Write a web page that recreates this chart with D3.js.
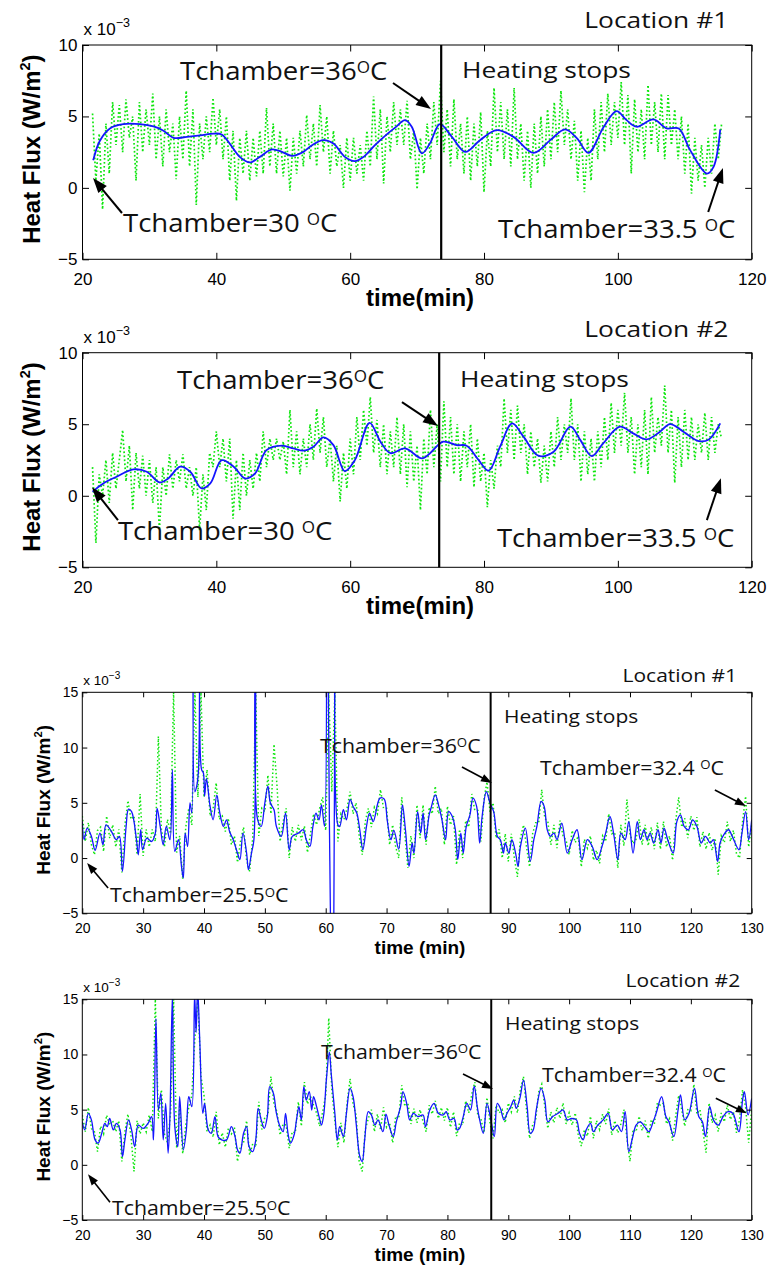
<!DOCTYPE html>
<html><head><meta charset="utf-8">
<script src="https://cdn.jsdelivr.net/npm/d3@7"></script>
<style>body{margin:0;background:#fff}svg{display:block}</style>
</head><body>
<svg id="c" width="773" height="1269"></svg>
<script>
// ---------- DATA ----------
const xTicksTop = [20, 40, 60, 80, 100, 120];
const yTicksTop = [-5, 0, 5, 10];
const xTicksBot = [20, 30, 40, 50, 60, 70, 80, 90, 100, 110, 120, 130];
const yTicksBot = [-5, 0, 5, 10, 15];
const greenStep = 0.5;

// Panel 1 (Location #1, top figure) smoothed curve [time, flux x1e-3]
const blue1 = [[21.6,1.94],[22.6,3.3],[24.1,4.16],[26.1,4.46],[28.6,4.46],[30.6,4.3],[32.1,4.0],[33.6,3.5],[35.6,3.57],[37.6,3.67],[39.6,3.8],[40.8,3.74],[42.0,3.1],[43.5,2.17],[45.0,1.78],[46.5,2.17],[48.3,2.69],[49.8,2.52],[51.3,2.24],[53.0,2.52],[54.3,2.99],[56.0,3.34],[57.5,3.1],[59.2,2.17],[60.7,1.87],[62.0,2.17],[63.7,2.99],[65.6,3.8],[66.8,4.25],[68.2,4.74],[69.2,4.28],[70.7,2.41],[71.9,3.1],[73.4,4.46],[75.2,3.57],[77.2,2.52],[79.4,3.34],[81.9,4.04],[84.4,3.57],[87.4,2.45],[89.9,3.34],[92.1,4.09],[93.9,3.46],[95.6,2.45],[97.9,4.28],[99.8,5.37],[101.3,4.74],[102.8,4.28],[105.3,4.79],[107.3,4.16],[109.1,4.16],[110.8,2.64],[113.3,1.0],[114.3,1.47],[115.3,4.09]];
const green1Start = 21.5;
const green1 = [
5.2,0.5,3.8,-1.5,4.5,1.0,6.0,3.0,5.8,2.5,
6.2,3.5,5.0,0.5,6.0,2.5,5.5,3.0,6.6,2.0,
5.0,1.5,5.5,2.5,4.5,0.6,5.0,2.0,6.8,1.5,
5.5,-1.2,4.5,2.0,5.0,2.5,6.3,3.0,5.5,2.0,
5.0,0.5,4.0,-0.9,3.5,1.0,4.0,0.5,3.5,0.8,
4.0,1.0,5.6,1.5,4.5,1.0,4.0,0.8,3.5,-0.2,
3.5,1.0,4.0,1.5,5.1,2.0,4.5,1.5,5.8,2.5,
5.0,1.0,4.0,1.5,3.0,0.0,3.5,0.5,3.5,1.0,
3.0,0.5,4.0,1.5,6.4,2.0,5.5,0.3,5.0,2.5,
6.0,3.0,5.5,3.0,6.1,2.0,4.0,-0.1,3.5,1.0,
4.5,2.0,6.0,3.0,7.5,2.5,5.5,1.5,6.2,2.0,
4.5,1.0,5.0,0.5,4.5,1.5,5.3,-0.3,4.0,1.5,
7.0,2.5,6.0,2.0,5.5,1.5,7.0,2.0,4.5,0.5,
4.0,0.0,4.5,1.0,5.0,1.5,5.5,2.0,6.0,2.5,
6.8,3.0,5.5,2.0,4.7,0.5,4.0,-0.3,3.5,0.5,
5.5,2.0,6.0,2.5,6.6,3.0,6.0,3.5,7.4,3.0,
6.5,1.0,6.2,2.5,5.5,2.0,7.2,3.0,6.0,2.5,
6.6,2.0,6.5,3.0,5.5,2.0,5.0,1.0,4.5,-0.4,
3.5,0.5,3.0,0.0,3.5,1.0,4.5,2.0,4.5];

// Panel 2 (Location #2, top figure)
const blue2 = [[21.5,0.28],[23.1,0.86],[25.1,1.33],[27.6,1.84],[29.6,1.68],[31.5,0.93],[32.8,1.21],[34.6,2.03],[36.1,1.68],[37.8,0.51],[39.1,0.86],[40.8,2.49],[42.6,2.03],[44.3,1.21],[45.8,1.56],[47.5,3.19],[49.8,3.5],[51.5,3.31],[53.0,3.15],[54.5,3.43],[56.0,4.08],[57.5,3.54],[59.2,1.72],[60.7,2.49],[62.9,5.1],[64.5,3.8],[66.0,2.98],[68.2,3.31],[70.7,2.61],[71.9,2.96],[73.9,3.78],[75.9,3.54],[77.4,3.5],[79.2,2.49],[80.7,1.75],[82.4,3.43],[84.2,5.06],[85.9,4.13],[88.1,2.8],[90.4,3.08],[92.9,4.83],[94.4,3.89],[96.1,2.77],[97.8,3.66],[100.3,4.83],[102.3,4.36],[104.3,3.94],[106.3,4.48],[107.8,5.01],[109.8,4.48],[112.1,3.82],[113.6,3.94],[115.3,5.06]];
const green2Start = 21.5;
const green2 = [
2.0,-3.3,1.5,0.0,2.5,-0.5,3.0,0.5,2.5,4.6,
1.0,3.5,-1.0,3.0,0.5,2.8,0.0,2.5,-0.5,2.0,
-2.4,2.0,0.0,2.9,0.5,2.5,1.0,2.9,0.5,2.0,
0.0,2.0,-2.4,1.5,-1.0,3.0,2.0,4.5,2.0,4.0,
1.0,4.0,-1.6,2.5,-1.0,3.0,0.0,2.5,0.5,3.0,
1.0,4.5,2.0,4.0,2.5,4.0,2.5,3.8,1.5,6.0,
2.0,4.5,1.5,4.0,2.0,5.0,2.5,6.1,3.0,5.5,
2.0,4.0,1.0,3.5,-0.4,3.0,0.5,4.0,1.5,5.5,
2.5,6.0,3.5,6.9,3.0,5.3,2.0,5.0,1.5,4.5,
2.0,5.5,1.5,5.0,0.6,4.5,1.0,3.5,-1.0,4.0,
1.5,6.0,2.0,5.0,1.0,6.6,2.0,5.5,1.5,5.0,
1.0,4.5,2.0,5.0,0.6,4.0,1.0,3.0,-0.8,2.5,
0.5,3.5,2.0,6.8,3.0,6.0,2.5,6.3,3.0,5.0,
1.5,4.5,2.0,4.0,0.9,3.5,1.0,4.5,2.0,5.5,
2.5,5.0,3.0,6.8,2.5,5.0,1.0,4.5,1.5,4.0,
1.0,4.5,2.0,5.5,2.5,6.5,3.0,6.0,3.5,7.2,
3.0,5.5,1.5,5.0,2.0,6.0,1.5,6.9,3.0,5.5,
3.5,7.7,3.0,6.0,0.9,5.5,2.0,6.0,2.5,5.5,
2.5,5.0,3.0,5.8,2.5,5.5,3.0,5.0,4.0];

// Panel 3 (Location #1, bottom figure)
const blue3 = [[20.0,3.3],[20.3,1.66],[20.8,2.7],[21.5,1.96],[22.1,0.7],[22.9,2.26],[23.4,1.2],[23.9,3.0],[24.8,2.4],[25.6,1.66],[26.1,1.96],[26.6,-1.2],[27.2,2.86],[27.6,4.43],[28.1,4.2],[28.9,1.66],[29.2,0.3],[29.6,2.56],[29.9,0.75],[30.6,1.8],[31.4,1.5],[32.0,2.26],[32.3,4.5],[32.8,2.86],[33.3,1.2],[33.8,2.86],[34.4,1.66],[34.8,8.0],[35.2,0.6],[35.8,1.66],[36.3,-0.75],[36.6,-1.8],[36.9,2.26],[37.3,1.05],[37.7,5.0],[38.0,4.07],[38.2,25],[38.5,6.0],[38.8,6.5],[39.1,8],[39.3,25],[39.6,8],[39.9,7.7],[40.1,5.6],[40.4,7.2],[41.0,4.67],[41.5,3.46],[42.1,5.7],[42.6,4.07],[43.2,2.86],[43.7,3.46],[44.2,2.4],[44.8,1.66],[45.5,0.45],[45.9,-0.15],[46.4,2.26],[47.0,0.45],[47.3,-1.05],[47.8,0.45],[48.2,1.66],[48.5,25],[48.8,3.5],[49.4,2.86],[50.0,5.0],[50.5,6.5],[50.9,5.0],[51.5,4.37],[51.9,2.86],[52.7,1.96],[53.4,4.07],[54.0,0.75],[54.5,1.96],[55.5,2.26],[56.3,2.56],[56.8,1.66],[57.4,1.05],[57.9,2.86],[58.4,4.07],[58.9,3.46],[59.3,4.82],[59.8,2.86],[60.2,30],[60.6,3.5],[61.2,-20],[61.6,30],[62.0,3.0],[62.3,2.86],[62.9,4.37],[63.4,3.46],[64.0,5.3],[64.5,4.67],[65.1,4.07],[65.6,2.56],[66.1,0.75],[66.7,2.86],[67.2,4.07],[67.8,3.3],[68.9,5.42],[69.6,5.35],[70.1,3.46],[70.7,1.66],[71.2,2.5],[72.0,0.8],[72.6,4.82],[73.1,2.56],[73.7,-0.75],[74.2,1.36],[74.5,0.45],[75.1,4.2],[75.6,2.26],[76.0,4.07],[76.4,1.66],[77.0,3.9],[77.3,4.5],[78.0,5.72],[78.6,4.67],[79.1,3.46],[79.7,1.66],[80.2,4.2],[80.8,3.76],[81.3,2.56],[81.7,-0.15],[82.2,2.26],[82.6,0.45],[83.1,2.86],[83.7,3.9],[84.2,5.42],[84.8,4.67],[85.3,1.36],[85.7,3.76],[86.4,6.0],[87.0,4.97],[87.6,4.2],[88.2,1.96],[88.7,1.66],[89.2,0.45],[89.5,1.36],[90.1,0.45],[90.6,1.66],[91.2,0.45],[91.6,-0.75],[92.0,1.05],[92.8,2.7],[93.6,-0.3],[94.2,1.66],[94.7,2.86],[95.4,5.12],[95.9,4.67],[96.4,2.56],[96.9,1.96],[97.5,2.26],[98.0,1.66],[98.8,3.16],[99.7,0.45],[100.5,1.66],[101.3,2.56],[102.1,-0.15],[103.0,1.66],[103.8,1.05],[104.6,-0.15],[105.4,1.05],[106.0,2.26],[106.7,3.76],[107.3,2.26],[108.0,-0.15],[108.5,2.26],[109.2,1.66],[109.8,3.3],[110.5,0.45],[111.2,3.3],[111.7,1.66],[112.3,2.56],[112.8,1.66],[113.3,2.26],[113.9,1.36],[114.6,2.56],[115.1,1.36],[115.6,2.7],[116.2,1.66],[117.1,0.45],[117.7,3.3],[118.3,3.9],[118.9,2.86],[119.6,2.56],[120.3,3.46],[121.0,2.86],[121.7,1.36],[122.4,1.96],[123.2,1.36],[123.7,1.66],[124.4,-0.3],[124.8,1.36],[125.4,2.1],[126.2,2.56],[126.8,1.96],[127.9,0.75],[128.4,2.26],[129.0,4.2],[129.5,1.66],[130.0,3.46]];
const green3Start = 20;
const green3 = [
3.8,1.5,3.2,1.2,0.3,2.5,2.8,0.6,3.8,1.8,
3.0,1.0,2.6,-1.3,3.0,5.2,3.5,3.8,0.3,5.8,
0.2,2.6,1.0,2.6,1.5,11.0,2.6,1.0,3.5,2.2,
15.0,0.5,2.0,-1.9,2.8,4.5,3.0,15.0,5.5,15.0,
5.5,8.0,3.8,4.5,6.8,3.5,3.8,2.4,3.6,1.2,
2.0,-0.4,1.5,2.8,-0.2,-1.2,1.8,15.0,2.0,4.5,
4.2,7.5,4.0,10.3,6.5,1.5,3.3,4.5,0.0,2.8,
1.5,3.0,1.6,2.9,0.5,2.2,4.0,3.0,4.5,5.5,
2.5,15.0,6.0,15.0,1.5,4.0,3.5,4.5,6.0,4.0,
5.0,2.0,0.3,3.3,4.5,2.8,4.6,4.0,6.2,4.5,
4.5,1.2,3.0,1.0,0.0,5.5,2.2,-0.9,2.0,0.0,
4.8,1.8,4.8,1.2,4.6,4.0,6.5,4.0,4.5,1.2,
4.7,3.0,3.8,-0.6,2.6,0.0,3.4,2.8,5.8,4.3,
4.3,1.5,5.3,6.9,4.2,5.0,1.8,2.6,0.0,2.2,
-0.3,2.2,0.0,-1.7,1.8,3.0,1.0,-0.8,2.2,3.2,
3.2,6.2,3.6,3.3,1.2,3.0,0.9,3.4,2.0,1.6,
0.3,2.5,1.4,2.0,-0.8,1.7,0.9,2.0,-0.2,0.7,
-0.5,2.0,1.5,4.0,2.2,2.3,-0.9,3.0,1.1,5.3,
2.2,1.3,1.7,3.5,1.2,3.0,1.1,2.8,0.8,3.2,
0.8,3.3,1.0,2.0,-0.2,3.3,5.5,2.8,3.6,1.8,
3.8,2.5,3.7,1.0,2.4,0.8,2.3,0.7,1.8,-1.5,
2.0,1.4,3.3,1.5,2.5,0.4,0.0,3.3,5.6,1.0,
3.0];

// Panel 4 (Location #2, bottom figure)
const blue4 = [[20.0,3.9],[20.4,3.16],[21.0,4.67],[21.5,4.07],[22.1,2.26],[22.6,1.96],[23.2,2.86],[23.7,3.76],[24.1,3.46],[24.5,4.2],[25.1,3.16],[25.6,3.76],[26.2,3.16],[26.6,0.75],[27.0,2.26],[27.6,4.07],[28.1,3.16],[28.6,1.66],[29.2,3.6],[30.0,3.3],[30.8,3.76],[31.4,4.37],[31.7,2.26],[32.1,13.25],[32.5,4.97],[32.9,6.48],[33.3,2.26],[33.7,5.57],[34.1,1.05],[34.4,4.37],[34.8,15.3],[35.2,3.46],[35.7,1.66],[36.0,6.17],[36.6,1.36],[37.1,3.16],[37.5,6.17],[38.0,5.27],[38.45,15.5],[38.7,12],[38.95,16],[39.3,11.3],[39.8,4.67],[40.1,5.57],[40.7,3.16],[41.2,2.86],[41.8,4.37],[42.3,2.56],[42.9,2.26],[43.7,2.26],[44.5,3.46],[45.1,2.56],[45.5,1.36],[45.9,1.05],[46.5,2.86],[47.0,3.46],[47.4,1.66],[48.0,1.2],[48.5,2.26],[48.9,5.12],[49.4,4.07],[49.9,3.3],[50.4,4.37],[50.8,7.08],[51.4,6.48],[51.9,4.67],[52.5,3.46],[53.0,3.0],[53.4,4.67],[53.8,2.86],[54.2,1.96],[54.8,2.7],[55.2,4.07],[55.6,5.27],[56.0,4.07],[56.4,7.08],[56.8,5.87],[57.3,6.63],[57.7,4.97],[58.0,6.17],[58.5,5.27],[58.9,4.37],[59.3,3.6],[59.7,4.67],[60.1,7.68],[60.6,10.2],[60.9,8.28],[61.5,4.67],[61.9,2.26],[62.3,3.46],[62.9,2.56],[63.4,4.67],[64.0,6.93],[64.5,6.17],[65.0,3.76],[65.6,0.75],[66.0,0.3],[66.4,2.26],[67.0,4.82],[67.5,4.52],[68.1,3.6],[68.6,4.07],[69.4,3.0],[69.9,4.6],[70.4,3.6],[71.1,2.56],[71.6,3.9],[72.3,5.27],[72.7,6.63],[73.3,5.57],[73.8,4.07],[74.4,4.67],[75.2,4.37],[76.0,4.52],[76.4,3.46],[77.1,4.97],[77.8,5.57],[78.5,4.67],[79.3,4.52],[79.8,4.82],[80.4,4.07],[81.1,4.2],[81.6,3.16],[82.0,3.3],[82.6,4.37],[83.2,5.57],[83.8,4.97],[84.4,7.14],[84.9,5.27],[85.3,4.07],[85.9,2.86],[86.5,5.57],[87.1,4.2],[87.7,2.56],[88.2,5.57],[88.7,5.12],[89.3,4.07],[89.8,4.67],[90.4,5.27],[90.9,5.87],[91.3,5.12],[91.9,6.02],[92.5,7.68],[93.1,5.27],[93.6,2.86],[94.1,3.16],[94.6,4.97],[95.4,6.93],[96.0,5.87],[96.5,3.9],[97.3,4.37],[98.2,4.67],[99.0,4.97],[99.7,4.07],[100.4,4.2],[101.2,4.07],[101.7,2.86],[102.3,2.26],[102.8,3.16],[103.5,3.76],[104.0,3.0],[104.7,3.6],[105.6,4.07],[106.4,4.67],[107.1,3.16],[107.9,3.6],[108.6,3.0],[109.2,4.82],[109.8,1.2],[110.4,2.41],[111.0,3.6],[111.7,3.9],[112.4,3.46],[113.1,3.0],[113.8,3.9],[114.3,4.67],[115.2,6.17],[115.9,4.37],[116.4,3.9],[117.2,2.56],[117.9,4.97],[118.3,6.33],[119.0,4.07],[119.7,4.67],[120.6,6.93],[121.3,4.37],[121.9,3.9],[122.4,2.56],[123.1,5.27],[123.7,4.07],[124.5,3.6],[125.3,4.37],[126.1,4.82],[126.9,4.67],[127.9,3.0],[128.5,5.87],[128.8,6.63],[129.4,4.52],[130.0,6.02]];
const green4Start = 20;
const green4 = [
4.5,3.0,5.2,3.3,3.0,1.2,3.5,2.8,4.5,3.6,
4.0,3.0,4.0,0.3,3.0,4.6,2.6,-0.6,4.0,2.8,
3.8,3.0,4.5,3.0,15.0,4.2,6.8,2.8,2.0,4.6,
15.0,1.5,5.3,1.0,3.6,5.2,6.3,11.5,15.0,8.0,
6.3,3.0,3.6,2.5,4.8,1.8,2.9,1.6,3.3,2.8,
3.4,0.3,1.7,2.0,4.0,0.9,1.9,1.6,5.7,3.2,
4.3,4.5,8.0,5.5,4.8,2.7,3.7,3.6,1.5,3.0,
2.9,5.7,3.5,7.5,5.5,6.2,5.4,4.7,3.5,4.8,
6.3,13.3,6.8,4.0,1.6,3.8,2.0,5.5,7.8,5.5,
4.5,0.3,-0.6,3.2,4.2,5.0,3.0,4.6,3.2,5.2,
3.4,3.8,2.0,4.4,4.2,7.2,5.3,5.6,3.7,5.1,
3.8,5.0,3.9,3.0,5.4,4.6,5.8,4.2,5.2,4.0,
5.2,3.4,4.8,2.6,3.8,3.6,5.8,4.7,6.4,7.5,
4.4,4.2,2.9,6.1,3.8,2.4,5.4,4.7,5.0,3.8,
5.6,4.8,6.2,4.7,6.9,8.0,5.0,2.4,3.6,4.1,
6.6,7.3,5.3,3.3,4.8,3.8,5.2,4.2,5.6,3.7,
4.7,3.6,4.7,2.7,1.7,3.2,2.6,4.4,2.4,4.0,
3.2,4.6,3.7,5.1,2.7,4.0,2.9,3.7,5.0,2.4,
0.3,3.2,3.0,4.4,3.1,4.0,2.4,4.1,3.7,5.6,
5.4,5.6,3.7,4.2,2.2,4.4,6.3,5.0,3.5,5.0,
4.9,7.3,4.6,5.0,3.0,1.1,5.6,3.8,4.5,3.0,
4.7,3.9,5.4,4.1,4.8,2.9,4.1,6.8,5.2,2.0,
5.0];

// ---------- STYLE / LAYOUT ----------
const BIG = {tick:6.5, tickFont:17, xPad:14, yPad:5, labelFont:24, xTitleOff:47, yTitleX:40,
  expFont:17, expSup:12.5, expDy:-8, expOff:10, annBig:25.5, annSmall:22, sxBig:1.08, arrowW:2, head:15, half:5.5,
  blueW:1.8, greenW:1.7, dash:"1.7 2.3", vW:2.2, xTitle:"time(min)"};
const SMALL = {tick:5, tickFont:14, xPad:9.7, yPad:4, labelFont:19, xTitleOff:41, yTitleX:50,
  expFont:13.5, expSup:10, expDy:-6, expOff:7, annBig:20.5, annSmall:17.5, sxBig:1.04, arrowW:1.6, head:11, half:4,
  blueW:1.3, greenW:1.5, dash:"1.5 2.4", vW:2, xTitle:"time (min)"};
const SX = 1.2;

const panels = [
 {id:1, S:BIG, left:82.5, right:751.7, top:45, bottom:259.3, xDomain:[20,120], yDomain:[-5,10], xTicks:xTicksTop, yTicks:yTicksTop,
  blue:blue1, green:green1, greenStart:green1Start, heat:73.6,
  loc:{t:116.5,v:11.19,s:"Location #1"}, hs:{t:76.71,v:7.69},
  temps:[{t:34.57,v:7.55,s:"Tchamber=36"},{t:26.05,v:-3.09,s:"Tchamber=30 "},{t:82.08,v:-3.51,s:"Tchamber=33.5 "}],
  arrows:[[66.4,7.34,72.08,5.52],[25.9,-1.76,21.57,0.69],[113.5,-1.69,115.7,1.39]]},
 {id:2, S:BIG, left:82.5, right:751.7, top:352.7, bottom:567.3, xDomain:[20,120], yDomain:[-5,10], xTicks:xTicksTop, yTicks:yTicksTop,
  blue:blue2, green:green2, greenStart:green2Start, heat:73.3,
  loc:{t:116.5,v:11.1,s:"Location #2"}, hs:{t:76.41,v:7.6},
  temps:[{t:34.12,v:7.46,s:"Tchamber=36"},{t:25.3,v:-3.09,s:"Tchamber=30 "},{t:81.93,v:-3.58,s:"Tchamber=33.5 "}],
  arrows:[[67.74,6.55,73.12,4.87],[25.3,-1.7,21.42,0.6],[113.3,-1.7,115.4,1.23]]},
 {id:3, S:SMALL, left:82.3, right:751.7, top:692.3, bottom:913.3, xDomain:[20,130], yDomain:[-5,15], xTicks:xTicksBot, yTicks:yTicksBot,
  blue:blue3, green:green3, greenStart:green3Start, heat:87.1,
  loc:{t:127.6,v:15.93,s:"Location #1"}, hs:{t:89.29,v:12.22},
  temps:[{t:59.06,v:9.51,s:"Tchamber=36"},{t:95.21,v:7.52,s:"Tchamber=32.4 "},{t:24.55,v:-3.98,s:"Tchamber=25.5"}],
  arrows:[[82.39,8.24,87.32,6.79],[123.95,6.16,129.05,4.71],[24.24,-2.71,20.79,-0.45]]},
 {id:4, S:SMALL, left:82.3, right:751.7, top:999.3, bottom:1220, xDomain:[20,130], yDomain:[-5,15], xTicks:xTicksBot, yTicks:yTicksBot,
  blue:blue4, green:green4, greenStart:green4Start, heat:87.2,
  loc:{t:128.1,v:16.11,s:"Location #2"}, hs:{t:89.45,v:12.22},
  temps:[{t:59.22,v:9.59,s:"Tchamber=36"},{t:95.54,v:7.48,s:"Tchamber=32.4 "},{t:24.88,v:-4.58,s:"Tchamber=25.5"}],
  arrows:[[82.56,8.23,87.49,6.87],[124.1,6.03,129.2,4.67],[24.55,-3.4,20.94,-0.86]]}
];

// ---------- DRAW ----------
const svg = d3.select("#c");
const defs = svg.append("defs");
const ANN_FONT = "'Open Sans', 'Noto Sans', sans-serif";
const AX_FONT = "'Liberation Sans', Arial, sans-serif";
const fmt = d => d < 0 ? "\u2212" + Math.abs(d) : String(d);

function annText(g, x, y, str, size, deg, anchor, sx) {
  const gg = g.append("g").attr("transform", `translate(${x},${y}) scale(${sx},1)`);
  const t = gg.append("text").attr("font-family", ANN_FONT).attr("font-size", size)
    .attr("fill", "#111").attr("text-anchor", anchor || "start");
  t.append("tspan").text(str);
  if (deg) {
    t.append("tspan").attr("font-size", size * 0.62).attr("dy", -size * 0.27).text("O");
    t.append("tspan").attr("dy", size * 0.27).text("C");
  }
}
function arrow(g, x1, y1, x2, y2, S) {
  const dx = x2 - x1, dy = y2 - y1, L = Math.hypot(dx, dy), ux = dx / L, uy = dy / L;
  const bx = x2 - ux * S.head, by = y2 - uy * S.head;
  g.append("line").attr("x1", x1).attr("y1", y1).attr("x2", bx + ux).attr("y2", by + uy)
    .attr("stroke", "#000").attr("stroke-width", S.arrowW);
  g.append("polygon").attr("points", [[x2, y2], [bx - uy * S.half, by + ux * S.half], [bx + uy * S.half, by - ux * S.half]].map(p => p.join(",")).join(" "))
    .attr("fill", "#000");
}

panels.forEach(p => {
  const S = p.S;
  const x = d3.scaleLinear().domain(p.xDomain).range([p.left, p.right]);
  const y = d3.scaleLinear().domain(p.yDomain).range([p.bottom, p.top]);
  const g = svg.append("g");
  const cid = "clip" + p.id;
  defs.append("clipPath").attr("id", cid).append("rect")
    .attr("x", p.left).attr("y", p.top).attr("width", p.right - p.left).attr("height", p.bottom - p.top);
  const plot = g.append("g").attr("clip-path", `url(#${cid})`);

  const gPts = p.green.map((v, i) => [p.greenStart + i * greenStep, v]);
  plot.append("path").datum(gPts).attr("fill", "none").attr("stroke", "#0ee60e")
    .attr("stroke-width", S.greenW).attr("stroke-dasharray", S.dash)
    .attr("d", d3.line().x(d => x(d[0])).y(d => y(d[1])));
  plot.append("path").datum(p.blue).attr("fill", "none").attr("stroke", "#1414ff")
    .attr("stroke-width", S.blueW).attr("stroke-linejoin", "round")
    .attr("d", d3.line().curve(d3.curveCatmullRom.alpha(0.5)).x(d => x(d[0])).y(d => y(d[1])));

  // heating-stops line
  g.append("line").attr("x1", x(p.heat)).attr("x2", x(p.heat)).attr("y1", p.top).attr("y2", p.bottom)
    .attr("stroke", "#000").attr("stroke-width", S.vW);

  // axes (MATLAB-style inward ticks on all sides)
  const axes = [
    [d3.axisBottom(x).tickValues(p.xTicks).tickFormat(fmt).tickPadding(S.xPad), `translate(0,${p.bottom})`],
    [d3.axisTop(x).tickValues(p.xTicks).tickFormat(""), `translate(0,${p.top})`],
    [d3.axisLeft(y).tickValues(p.yTicks).tickFormat(fmt).tickPadding(S.yPad), `translate(${p.left},0)`],
    [d3.axisRight(y).tickValues(p.yTicks).tickFormat(""), `translate(${p.right},0)`]
  ];
  axes.forEach(([ax, tr]) => {
    const a = g.append("g").attr("transform", tr)
      .call(ax.tickSizeInner(-S.tick).tickSizeOuter(0));
    a.select(".domain").remove();
    a.selectAll(".tick line").attr("stroke", "#000").attr("stroke-width", 1);
    a.selectAll("text").attr("font-family", AX_FONT).attr("font-size", S.tickFont).attr("fill", "#000");
  });
  g.append("rect").attr("x", p.left).attr("y", p.top).attr("width", p.right - p.left).attr("height", p.bottom - p.top)
    .attr("fill", "none").attr("stroke", "#000").attr("stroke-width", 1);

  // exponent label
  const ex = g.append("text").attr("x", p.left + 1).attr("y", p.top - S.expOff)
    .attr("font-family", AX_FONT).attr("font-size", S.expFont).attr("fill", "#000");
  ex.append("tspan").text("x 10");
  ex.append("tspan").attr("font-size", S.expSup).attr("dy", S.expDy).text("\u22123");

  // axis titles
  g.append("text").attr("x", (p.left + p.right) / 2 + 3).attr("y", p.bottom + S.xTitleOff)
    .attr("text-anchor", "middle").attr("font-family", AX_FONT).attr("font-weight", "bold")
    .attr("font-size", S.labelFont).attr("fill", "#000").text(S.xTitle);
  const yt = g.append("text").attr("transform", `translate(${S.yTitleX},${(p.top + p.bottom) / 2 - 3}) rotate(-90)`)
    .attr("text-anchor", "middle").attr("font-family", AX_FONT).attr("font-weight", "bold")
    .attr("font-size", S.labelFont).attr("fill", "#000");
  yt.append("tspan").text("Heat Flux (W/m");
  yt.append("tspan").attr("font-size", S.labelFont * 0.6).attr("dy", -S.labelFont * 0.42).text("2");
  yt.append("tspan").attr("dy", S.labelFont * 0.42).text(")");

  // annotations
  annText(g, x(p.loc.t), y(p.loc.v), p.loc.s, S.annSmall, false, "end", SX);
  annText(g, x(p.hs.t), y(p.hs.v), "Heating stops", S.annSmall, false, "start", SX);
  p.temps.forEach(a => annText(g, x(a.t), y(a.v), a.s, S.annBig, true, "start", S.sxBig));
  p.arrows.forEach(a => arrow(g, x(a[0]), y(a[1]), x(a[2]), y(a[3]), S));
});
</script>
</body></html>
